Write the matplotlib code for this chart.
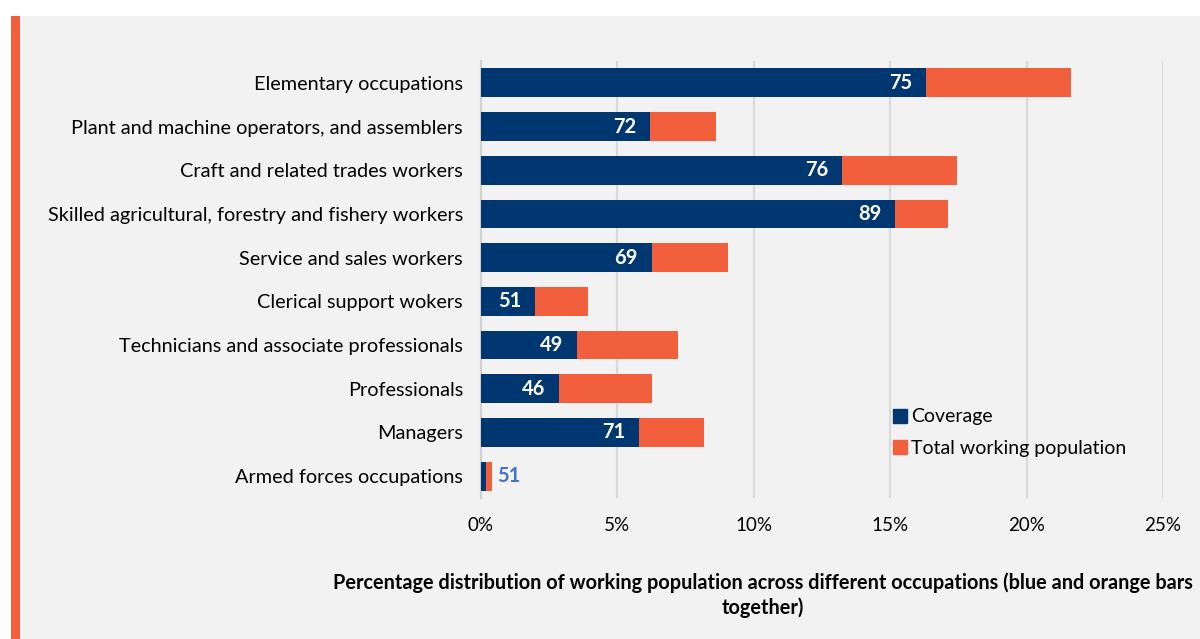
import matplotlib.pyplot as plt
from matplotlib.patches import Rectangle
from matplotlib.lines import Line2D

# categories from top to bottom
occupations = [
    'Elementary occupations',
    'Plant and machine operators, and assemblers',
    'Craft and related trades workers',
    'Skilled agricultural, forestry and fishery workers',
    'Service and sales workers',
    'Clerical support wokers',
    'Technicians and associate professionals',
    'Professionals',
    'Managers',
    'Armed forces occupations',
]
# share of working population (%), blue part = covered, full bar = total
covered_share = [16.31, 6.19, 13.23, 15.17, 6.25, 1.98, 3.53, 2.85, 5.78, 0.17]
total_share = [21.62, 8.60, 17.46, 17.12, 9.07, 3.92, 7.22, 6.28, 8.19, 0.39]
coverage_pct = [75, 72, 76, 89, 69, 51, 49, 46, 71, 51]
xticks = [0, 5, 10, 15, 20, 25]

BLUE = '#003770'
ORANGE = '#f25f3d'
BG = '#f2f2f2'
FONT = ['Lato', 'DejaVu Sans']

plt.rcParams['font.family'] = FONT

fig = plt.figure(figsize=(12, 6.39), dpi=100)
fig.patch.set_facecolor('white')
# grey panel with orange stripe on the left
fig.patches.append(Rectangle((11 / 1200, 0), 1 - 11 / 1200, 1 - 16 / 639,
                             transform=fig.transFigure, facecolor=BG,
                             edgecolor='none', zorder=-2))
fig.patches.append(Rectangle((11 / 1200, 0), 9 / 1200, 1 - 16 / 639,
                             transform=fig.transFigure, facecolor=ORANGE,
                             edgecolor='none', zorder=-1))

ax = fig.add_axes([481 / 1200, 1 - 498 / 639, 682 / 1200, 437 / 639])
ax.set_zorder(2)
ax.set_facecolor(BG)

ypos = list(range(len(occupations)))
orange_part = [t - c for t, c in zip(total_share, covered_share)]
ax.barh(ypos, covered_share, height=0.66, color=BLUE, zorder=3)
ax.barh(ypos, orange_part, left=covered_share, height=0.66, color=ORANGE, zorder=3)

for y, c, t, p in zip(ypos, covered_share, total_share, coverage_pct):
    if c > 1:
        ax.text(c - 0.5, y, str(p), ha='right', va='center', color='white',
                fontsize=14.5, fontweight='bold', zorder=4)
    else:
        ax.text(t + 0.2, y, str(p), ha='left', va='center', color='#4472c4',
                fontsize=14.5, fontweight='bold', zorder=4)

ax.set_xlim(0, 25)
ax.set_ylim(len(occupations) - 0.5, -0.5)
ax.set_xticks(xticks)
ax.set_xticklabels(['{}%'.format(v) for v in xticks], fontsize=13.5)
ax.set_yticks(ypos)
ax.set_yticklabels(occupations, fontsize=14.3)
ax.tick_params(length=0, pad=20, axis='y')
ax.tick_params(length=0, pad=14, axis='x')
ax.tick_params(axis='y', pad=13)
ax.grid(axis='x', color='#d9d9d9', linewidth=1.5, zorder=0)
for side in ['top', 'right', 'bottom']:
    ax.spines[side].set_visible(False)
ax.spines['left'].set_color('#d0d0d0')
ax.spines['left'].set_linewidth(1.5)

handles = [Line2D([], [], marker='s', linestyle='none', color=BLUE, markersize=10),
           Line2D([], [], marker='s', linestyle='none', color=ORANGE, markersize=10)]
ax.legend(handles, ['Coverage', 'Total working population'], loc='upper left',
          bbox_to_anchor=(0.575, 0.245), frameon=False, fontsize=14,
          handletextpad=0.05, labelspacing=0.75, handlelength=1.0)

fig.text(763 / 1200, 1 - 583 / 639,
         'Percentage distribution of working population across different occupations (blue and orange bars',
         ha='center', va='center', fontsize=14.3, fontweight='bold')
fig.text(763 / 1200, 1 - 608 / 639, 'together)',
         ha='center', va='center', fontsize=14.3, fontweight='bold')

fig.savefig('out.png', dpi=100, facecolor=fig.get_facecolor())
